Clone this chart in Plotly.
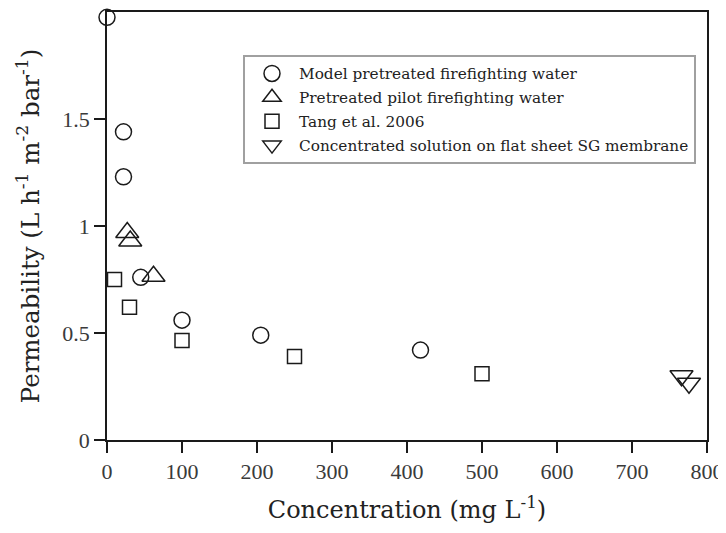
import plotly.graph_objects as go

# Data
model_x = [0, 22, 22, 45, 100, 205, 418]
model_y = [1.975, 1.44, 1.23, 0.76, 0.56, 0.49, 0.42]

pilot_x = [27, 31, 62]
pilot_y = [0.97, 0.93, 0.765]

tang_x = [10, 30, 100, 250, 500]
tang_y = [0.75, 0.62, 0.465, 0.39, 0.31]

conc_x = [766, 776]
conc_y = [0.30, 0.265]

x_ticks = [0, 100, 200, 300, 400, 500, 600, 700, 800]
y_ticks = [0, 0.5, 1, 1.5]
y_tick_text = ["0", "0.5", "1", "1.5"]

TITLE_FONT = "DejaVu Serif"
TICK_FONT = "Liberation Serif"
INK = "#1a1a1a"

# the page body has an 8px default margin; size the figure to fill the rest
OFF = 8
W, H = 726 - OFF, 533 - OFF
PLOT_L, PLOT_T, PLOT_R, PLOT_B = 107, 12, 707, 440

fig = go.Figure()

def add(x, y, name, symbol, size):
    fig.add_trace(go.Scatter(
        x=x, y=y, mode="markers", name=name, legendgroup=name,
        marker=dict(symbol=symbol, size=size, color=INK,
                    line=dict(width=1.5, color=INK)),
        cliponaxis=False,
    ))

add(model_x, model_y, "Model pretreated firefighting water", "circle-open", 16)
add(pilot_x, pilot_y, "Pretreated pilot firefighting water", "triangle-up-open", 20)
add(tang_x, tang_y, "Tang et al. 2006", "square-open", 14)
add(conc_x, conc_y, "Concentrated solution on flat sheet SG membrane", "triangle-down-open", 20)

axis_common = dict(
    showgrid=False, zeroline=False, showline=True, linecolor=INK, linewidth=1.5,
    mirror=True, ticks="outside", ticklen=11, tickwidth=1.5, tickcolor=INK,
    tickfont=dict(family=TICK_FONT, size=22, color="#3a3a3a"),
    automargin=False,
)

pw = PLOT_R - PLOT_L
ph = PLOT_B - PLOT_T
leg_left, leg_top = 243, 55

fig.update_layout(
    width=W, height=H,
    margin=dict(l=PLOT_L - OFF, r=726 - PLOT_R, t=PLOT_T - OFF, b=533 - PLOT_B),
    paper_bgcolor="white", plot_bgcolor="white",
    font=dict(family=TITLE_FONT, color="#222"),
    xaxis=dict(range=[0, 800], tickvals=x_ticks,
               title=dict(text="Concentration (mg L<sup>-1</sup>)",
                          font=dict(family=TITLE_FONT, size=24, color="#222"), standoff=18),
               **axis_common),
    yaxis=dict(range=[0, 2], tickvals=y_ticks, ticktext=y_tick_text,
               title=dict(text="Permeability (L h<sup>-1</sup> m<sup>-2</sup> bar<sup>-1</sup>)",
                          font=dict(family=TITLE_FONT, size=24.5, color="#222"), standoff=16),
               **axis_common),
    legend=dict(x=(leg_left - PLOT_L) / pw, y=(PLOT_B - leg_top) / ph,
                xanchor="left", yanchor="top",
                bgcolor="white", bordercolor="#a0a0a0", borderwidth=2,
                font=dict(family=TITLE_FONT, size=15.3, color="#222"),
                itemwidth=44, tracegroupgap=1, traceorder="grouped"),
    showlegend=True,
)

fig.write_html("out.html")
